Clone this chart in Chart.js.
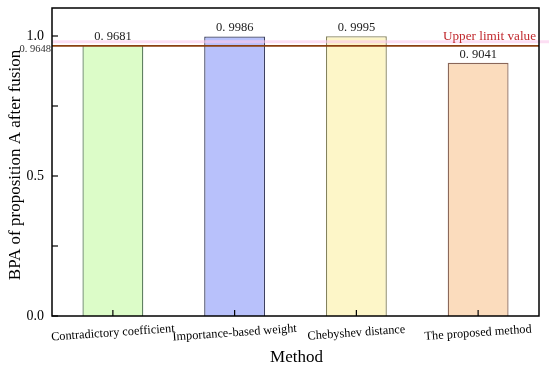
<!DOCTYPE html>
<html>
<head>
<meta charset="utf-8">
<script src="https://cdn.jsdelivr.net/npm/chart.js@4/dist/chart.umd.min.js"></script>
<style>
  html, body { margin: 0; padding: 0; background: #fff; }
  #wrap { width: 550px; height: 369px; }
</style>
</head>
<body>
<div id="wrap"><canvas id="chart-bpa"></canvas></div>
<script>
const metodos = ['Contradictory coefficient', 'Importance-based weight', 'Chebyshev distance', 'The proposed method'];
const valores = [0.9681, 0.9986, 0.9995, 0.9041];
const etiquetas = ['0. 9681', '0. 9986', '0. 9995', '0. 9041'];
const limite = 0.9648;
const limiteTexto = '0. 9648';
const ticksY = [0, 0.25, 0.5, 0.75, 1.0];
const ticksYTexto = ['0.0', '', '0.5', '', '1.0'];

const rellenos = ['#dcfcc8', '#b8c1fb', '#fdf6c8', '#fbdcbd'];
const bordes = ['#5f7f60', '#3c4060', '#84825c', '#8a6658'];

const serif = '"Liberation Serif", "Times New Roman", serif';

// dibuja marco, ticks, textos y la linea limite
const extras = {
  id: 'extras',
  afterDatasetsDraw(chart) {
    const { ctx, chartArea: a, scales: { x, y } } = chart;
    ctx.save();

    // linea del limite superior
    const yl = y.getPixelForValue(limite);
    ctx.strokeStyle = 'rgba(250,200,235,0.6)';
    ctx.lineWidth = 3;
    ctx.beginPath(); ctx.moveTo(a.left, yl - 4); ctx.lineTo(a.right + 10, yl - 4); ctx.stroke();
    ctx.strokeStyle = '#8b4010';
    ctx.lineWidth = 1.6;
    ctx.beginPath(); ctx.moveTo(a.left, yl); ctx.lineTo(a.right, yl); ctx.stroke();

    // marco
    ctx.strokeStyle = '#000';
    ctx.lineWidth = 1.5;
    ctx.strokeRect(a.left, a.top, a.right - a.left, a.bottom - a.top);

    // ticks eje y hacia dentro
    ctx.lineWidth = 1.2;
    ticksY.forEach((v, i) => {
      const py = y.getPixelForValue(v);
      ctx.beginPath(); ctx.moveTo(a.left, py); ctx.lineTo(a.left + 6, py); ctx.stroke();
      if (ticksYTexto[i]) {
        ctx.fillStyle = '#000';
        ctx.font = '14px ' + serif;
        ctx.textAlign = 'right';
        ctx.textBaseline = 'middle';
        ctx.fillText(ticksYTexto[i], a.left - 8, py);
      }
    });

    // ticks eje x + etiquetas inclinadas
    metodos.forEach((m, i) => {
      const px = x.getPixelForTick(i);
      ctx.beginPath(); ctx.moveTo(px, a.bottom); ctx.lineTo(px, a.bottom - 6); ctx.stroke();
      ctx.save();
      ctx.translate(px, a.bottom + 17);
      ctx.rotate(-4 * Math.PI / 180);
      ctx.fillStyle = '#000';
      ctx.font = '12.3px ' + serif;
      ctx.textAlign = 'center';
      ctx.textBaseline = 'middle';
      ctx.fillText(m, 0, 0);
      ctx.restore();
    });

    // valores encima de las barras
    const meta = chart.getDatasetMeta(0);
    meta.data.forEach((bar, i) => {
      ctx.fillStyle = '#222';
      ctx.font = '12.5px ' + serif;
      ctx.textAlign = 'center';
      ctx.textBaseline = 'bottom';
      ctx.fillText(etiquetas[i], bar.x, bar.y - 2);
    });

    // textos del limite
    ctx.fillStyle = '#c0282d';
    ctx.font = '13.2px ' + serif;
    ctx.textAlign = 'right';
    ctx.textBaseline = 'bottom';
    ctx.fillText('Upper limit value', a.right - 3, yl - 3);
    ctx.fillStyle = '#333';
    ctx.font = '10.5px ' + serif;
    ctx.textBaseline = 'middle';
    ctx.fillText(limiteTexto, a.left - 1, yl + 3);

    // titulos de ejes
    ctx.fillStyle = '#000';
    ctx.font = '17px ' + serif;
    ctx.textAlign = 'center';
    ctx.textBaseline = 'middle';
    ctx.fillText('Method', (a.left + a.right) / 2 + 1, 358);
    ctx.save();
    ctx.translate(16, (a.top + a.bottom) / 2 + 3);
    ctx.rotate(-Math.PI / 2);
    ctx.fillText('BPA of proposition A after fusion', 0, 0);
    ctx.restore();

    ctx.restore();
  }
};

const ctx = document.getElementById('chart-bpa').getContext('2d');
const grafico = new Chart(ctx, {
  type: 'bar',
  data: {
    labels: metodos,
    datasets: [{
      data: valores,
      backgroundColor: rellenos,
      borderColor: bordes,
      borderWidth: 1.3,
      barPercentage: 0.5,
      categoryPercentage: 1.0
    }]
  },
  options: {
    responsive: true,
    maintainAspectRatio: false,
    animation: false,
    layout: { padding: { top: 8, right: 11, left: 0, bottom: 0 } },
    plugins: { legend: { display: false }, tooltip: { enabled: false } },
    scales: {
      x: {
        grid: { display: false },
        border: { display: false },
        ticks: { display: false },
        afterFit: (s) => { s.height = 53; }
      },
      y: {
        min: 0,
        max: 1.1,
        grid: { display: false },
        border: { display: false },
        ticks: { display: false },
        afterFit: (s) => { s.width = 52; }
      }
    }
  },
  plugins: [extras]
});
</script>
</body>
</html>
